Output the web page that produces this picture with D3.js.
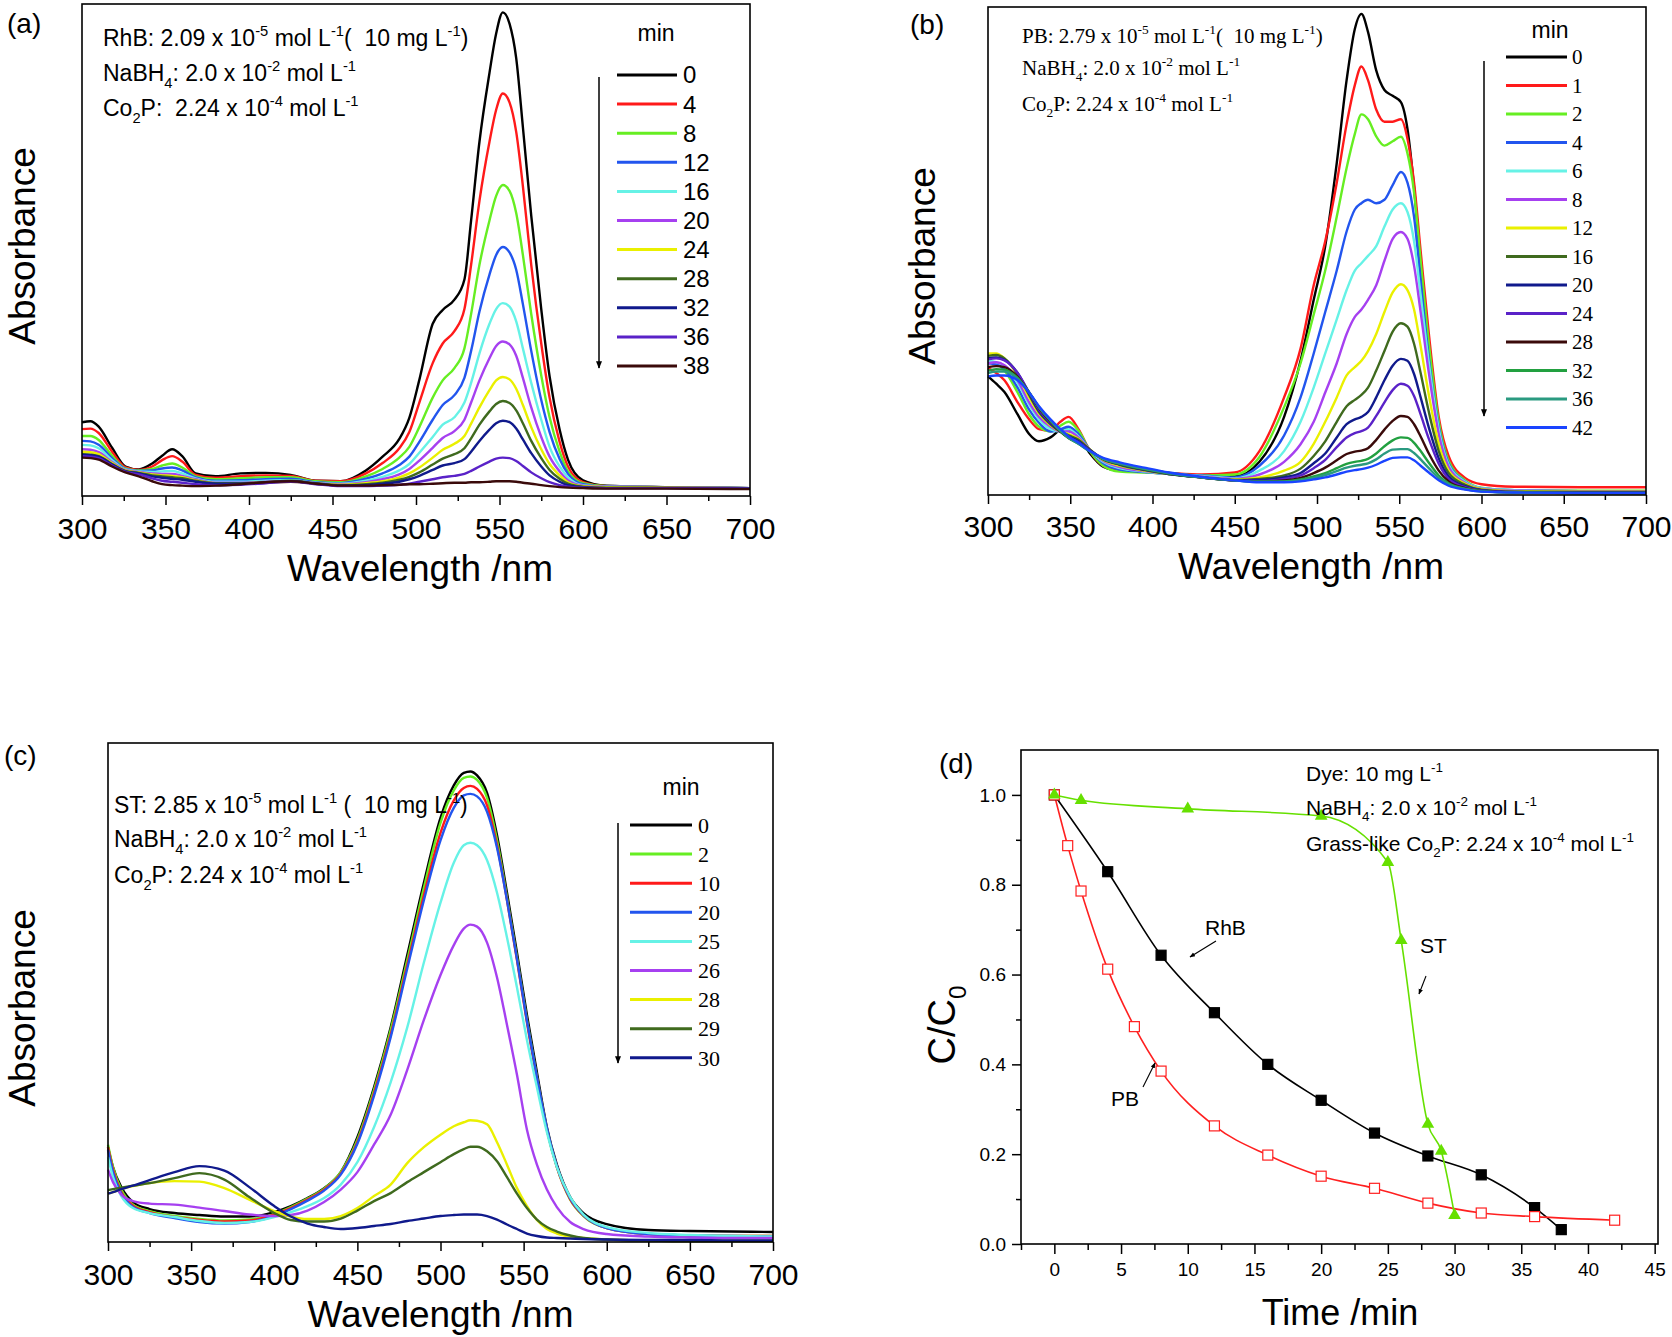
<!DOCTYPE html>
<html lang="en">
<head>
<meta charset="UTF-8">
<title>Dye reduction over Co2P</title>
<script src="https://cdn.jsdelivr.net/npm/d3@7"></script>
<style>
  body { margin: 0; background: #fff; }
  svg { display: block; background: #fff; }
  text { white-space: pre; fill: #000; }
  .sans { font-family: "Liberation Sans", Arial, sans-serif; }
  .narrow { font-family: "Liberation Sans Narrow", "Liberation Sans", Arial, sans-serif; }
  .serif { font-family: "Liberation Serif", "Times New Roman", serif; }
</style>
</head>
<body>
<script>
// ---------- data ----------
const specTicks = [300, 350, 400, 450, 500, 550, 600, 650, 700];

// (a) RhB
const wlA = [300,305,310,318,326,334,342,348,354,360,368,380,395,410,425,440,455,470,480,490,496,502,510,516,523,529,533,538,544,548,552,556,560,564,569,575,580,586,591,600,614,650,700];
const timesA = ["0","4","8","12","16","20","24","28","32","36","38"];
const absA = [
  [.150,.152,.141,.098,.060,.054,.066,.082,.095,.081,.046,.040,.046,.047,.043,.031,.030,.052,.080,.116,.159,.236,.350,.378,.399,.44,.56,.72,.86,.94,.983,.96,.89,.75,.57,.38,.243,.135,.074,.032,.021,.018,.016],
  [.136,.137,.128,.090,.058,.053,.060,.073,.081,.070,.043,.037,.040,.042,.041,.031,.030,.046,.067,.097,.130,.19,.27,.31,.335,.38,.47,.60,.72,.785,.818,.80,.74,.63,.47,.31,.20,.11,.06,.028,.020,.018,.016],
  [.122,.122,.114,.082,.056,.052,.055,.062,.066,.058,.040,.034,.036,.038,.038,.030,.028,.040,.055,.078,.100,.14,.20,.235,.26,.30,.37,.47,.56,.61,.632,.62,.575,.49,.37,.245,.16,.09,.05,.026,.020,.018,.016],
  [.112,.111,.104,.077,.055,.051,.052,.056,.058,.052,.038,.031,.032,.034,.035,.028,.026,.035,.046,.063,.08,.11,.155,.185,.205,.24,.295,.375,.45,.49,.506,.495,.46,.39,.295,.195,.13,.075,.045,.024,.019,.018,.016],
  [.104,.103,.097,.073,.054,.050,.049,.050,.051,.046,.036,.029,.029,.031,.032,.027,.025,.031,.039,.052,.065,.088,.12,.145,.16,.19,.23,.29,.35,.38,.392,.385,.355,.30,.23,.155,.10,.06,.038,.022,.019,.018,.016],
  [.095,.094,.089,.069,.053,.049,.046,.045,.045,.041,.034,.027,.027,.029,.030,.026,.024,.028,.034,.044,.055,.072,.098,.118,.132,.155,.19,.235,.28,.305,.314,.308,.285,.24,.18,.12,.08,.05,.032,.021,.019,.018,.016],
  [.090,.089,.085,.067,.052,.048,.044,.042,.041,.038,.032,.026,.026,.027,.029,.025,.023,.026,.030,.038,.046,.058,.078,.094,.106,.122,.147,.18,.215,.235,.242,.237,.218,.185,.14,.095,.065,.042,.028,.020,.018,.017,.016],
  [.085,.084,.081,.065,.051,.047,.042,.040,.038,.036,.031,.026,.026,.028,.031,.026,.022,.024,.027,.033,.039,.048,.064,.076,.085,.097,.117,.145,.172,.187,.193,.189,.174,.148,.112,.077,.053,.035,.025,.019,.017,.017,.016],
  [.084,.083,.080,.064,.050,.046,.040,.037,.035,.033,.029,.025,.025,.027,.030,.025,.021,.022,.025,.029,.034,.041,.053,.062,.067,.075,.09,.112,.135,.148,.153,.15,.137,.115,.087,.06,.042,.029,.022,.018,.016,.016,.015],
  [.081,.080,.077,.062,.049,.044,.036,.031,.029,.027,.024,.022,.023,.026,.029,.024,.020,.020,.021,.023,.025,.029,.034,.038,.041,.045,.051,.060,.070,.076,.078,.077,.071,.061,.048,.036,.028,.022,.019,.017,.016,.016,.015],
  [.078,.077,.074,.060,.048,.040,.030,.024,.022,.021,.020,.021,.024,.028,.030,.025,.021,.021,.022,.023,.024,.024,.025,.026,.027,.027,.028,.028,.029,.030,.030,.030,.029,.027,.025,.022,.020,.018,.017,.016,.015,.015,.014]
];

// (b) PB
const wlB = [300,305,310,318,325,331,338,344,349,355,362,370,380,395,410,430,450,465,480,490,498,505,512,518,523,527,531,536,541,546,551,555,559,563,568,574,580,590,600,620,660,700];
const timesB = ["0","1","2","4","6","8","12","16","20","24","28","32","36","42"];
const absB = [
  [.243,.228,.211,.165,.125,.110,.118,.133,.135,.12,.085,.058,.050,.052,.045,.039,.038,.068,.16,.275,.40,.51,.68,.85,.955,.986,.949,.87,.83,.818,.805,.75,.63,.476,.297,.132,.061,.025,.012,.006,.005,.004],
  [.26,.25,.235,.19,.155,.135,.132,.15,.16,.135,.09,.06,.05,.048,.045,.042,.046,.09,.20,.30,.43,.52,.64,.76,.84,.878,.85,.79,.765,.765,.77,.73,.64,.50,.33,.16,.08,.035,.022,.017,.016,.016],
  [.276,.27,.255,.21,.165,.14,.13,.142,.15,.132,.09,.06,.048,.046,.044,.04,.042,.078,.18,.27,.37,.46,.57,.67,.74,.78,.77,.735,.716,.725,.734,.70,.62,.48,.31,.15,.07,.03,.015,.01,.009,.009],
  [.27,.268,.258,.22,.175,.148,.13,.135,.14,.125,.092,.065,.052,.047,.043,.04,.036,.06,.122,.20,.29,.375,.46,.54,.585,.598,.605,.598,.605,.635,.662,.64,.57,.44,.28,.14,.065,.028,.014,.01,.008,.008],
  [.275,.272,.265,.23,.185,.155,.135,.13,.135,.12,.092,.068,.055,.048,.043,.039,.034,.05,.09,.15,.22,.29,.36,.42,.46,.475,.49,.51,.55,.585,.598,.58,.52,.41,.27,.135,.062,.027,.014,.01,.008,.008],
  [.27,.272,.266,.235,.19,.16,.14,.13,.13,.118,.093,.07,.057,.049,.043,.038,.033,.042,.068,.104,.15,.21,.27,.33,.365,.38,.40,.43,.48,.525,.539,.525,.47,.375,.25,.125,.058,.025,.013,.009,.008,.008],
  [.29,.29,.28,.245,.2,.167,.143,.13,.125,.115,.093,.072,.06,.05,.043,.037,.032,.036,.05,.068,.105,.15,.20,.245,.262,.275,.295,.33,.375,.415,.432,.42,.38,.305,.205,.105,.05,.023,.012,.008,.007,.007],
  [.285,.287,.28,.248,.205,.17,.145,.13,.122,.113,.093,.073,.062,.051,.043,.036,.031,.033,.04,.054,.08,.11,.15,.182,.195,.205,.22,.255,.295,.335,.352,.345,.31,.25,.17,.09,.045,.021,.011,.007,.006,.006],
  [.28,.282,.277,.25,.208,.173,.147,.13,.12,.11,.092,.074,.063,.052,.043,.036,.03,.031,.036,.045,.065,.085,.118,.145,.155,.16,.17,.2,.235,.265,.279,.275,.248,.2,.138,.075,.038,.018,.01,.006,.005,.005],
  [.278,.28,.276,.25,.21,.175,.148,.13,.118,.108,.091,.074,.064,.053,.044,.036,.03,.029,.033,.04,.055,.072,.098,.118,.127,.131,.138,.162,.19,.215,.228,.224,.203,.165,.115,.064,.033,.016,.009,.006,.005,.005],
  [.262,.264,.262,.242,.21,.178,.15,.13,.117,.106,.09,.074,.064,.053,.044,.036,.03,.028,.03,.035,.045,.056,.071,.084,.089,.091,.096,.113,.134,.152,.162,.16,.145,.12,.085,.05,.028,.014,.008,.005,.005,.005],
  [.255,.258,.257,.24,.21,.18,.152,.131,.117,.105,.089,.074,.064,.053,.044,.036,.03,.027,.028,.032,.038,.045,.055,.064,.068,.07,.074,.085,.1,.112,.118,.117,.107,.09,.066,.04,.024,.013,.008,.005,.004,.004],
  [.25,.253,.253,.238,.21,.18,.153,.132,.117,.105,.089,.074,.065,.054,.045,.036,.03,.027,.027,.03,.035,.041,.049,.056,.06,.062,.065,.073,.085,.093,.094,.094,.086,.073,.055,.035,.022,.012,.007,.005,.004,.004],
  [.243,.245,.245,.235,.21,.182,.155,.135,.12,.107,.09,.076,.067,.056,.046,.037,.03,.026,.026,.028,.032,.036,.042,.048,.051,.053,.056,.062,.07,.076,.077,.077,.071,.06,.046,.03,.019,.011,.007,.005,.004,.004]
];

// (c) ST
const wlC = [300,303,308,315,325,340,355,370,385,400,410,420,430,440,450,460,470,480,490,500,508,514,518,522,528,534,540,546,552,558,564,570,578,586,600,625,650,675,700];
const timesC = ["0","2","10","20","25","26","28","29","30"];
const absC = [
  [.19,.15,.11,.08,.066,.058,.054,.051,.051,.06,.072,.088,.108,.14,.21,.31,.43,.575,.72,.85,.915,.94,.943,.935,.90,.815,.70,.58,.455,.34,.23,.155,.09,.058,.036,.024,.022,.021,.02],
  [.195,.15,.105,.075,.062,.052,.046,.043,.045,.056,.07,.087,.107,.14,.205,.305,.425,.565,.71,.84,.905,.93,.933,.926,.89,.805,.69,.57,.445,.33,.225,.15,.085,.052,.028,.016,.013,.012,.012],
  [.19,.145,.1,.073,.06,.05,.044,.041,.043,.055,.068,.085,.105,.137,.2,.298,.415,.555,.695,.82,.885,.91,.914,.908,.875,.795,.685,.565,.44,.328,.225,.15,.086,.053,.028,.016,.013,.012,.012],
  [.185,.14,.097,.07,.058,.048,.04,.037,.04,.052,.066,.083,.103,.135,.197,.293,.41,.548,.685,.805,.87,.895,.898,.893,.862,.79,.685,.567,.443,.33,.228,.152,.088,.054,.028,.016,.013,.012,.011],
  [.17,.13,.092,.068,.058,.05,.042,.038,.04,.05,.06,.072,.088,.115,.16,.23,.32,.43,.56,.68,.76,.795,.80,.795,.765,.70,.61,.51,.405,.31,.22,.15,.09,.055,.03,.018,.014,.012,.011],
  [.145,.12,.095,.082,.077,.075,.069,.062,.055,.052,.054,.063,.08,.105,.14,.195,.255,.345,.445,.535,.595,.628,.636,.632,.60,.53,.435,.335,.225,.155,.105,.07,.04,.026,.016,.011,.009,.008,.008],
  [.097,.10,.106,.112,.118,.122,.121,.108,.085,.062,.051,.046,.046,.052,.068,.092,.115,.158,.19,.215,.232,.24,.244,.243,.236,.2,.155,.108,.072,.044,.026,.017,.011,.008,.005,.003,.002,.002,.002],
  [.104,.106,.109,.113,.118,.128,.138,.125,.09,.058,.044,.041,.041,.047,.063,.082,.098,.12,.14,.16,.176,.186,.191,.191,.182,.162,.13,.097,.068,.045,.03,.021,.013,.008,.005,.003,.002,.002,.002],
  [.097,.10,.106,.113,.124,.14,.152,.143,.11,.072,.051,.037,.03,.026,.028,.032,.036,.042,.047,.052,.054,.055,.055,.055,.052,.045,.035,.026,.017,.012,.009,.008,.007,.006,.005,.004,.004,.003,.003]
];

// (d) C/C0 versus time
const tRhB = [0, 4, 8, 12, 16, 20, 24, 28, 32, 36, 38];
const cRhB = [1.0, 0.829, 0.643, 0.515, 0.40, 0.32, 0.247, 0.196, 0.154, 0.081, 0.032];
const tPB = [0, 1, 2, 4, 6, 8, 12, 16, 20, 24, 28, 32, 36, 42];
const cPB = [1.0, 0.887, 0.786, 0.612, 0.484, 0.385, 0.263, 0.198, 0.151, 0.124, 0.091, 0.069, 0.061, 0.053];
const tST = [0, 2, 10, 20, 25, 26, 28, 29, 30];
const cST = [1.0, 0.988, 0.969, 0.953, 0.85, 0.676, 0.267, 0.207, 0.064];
const timeTicks = [0, 5, 10, 15, 20, 25, 30, 35, 40, 45];
const ratioTicks = [0.0, 0.2, 0.4, 0.6, 0.8, 1.0];

// ---------- styles ----------
const colA = ["#000000","#ff1a1a","#66ee22","#2255ee","#66f2e6","#a640f0","#eaf000","#3f6a1e","#101a8c","#5a22c8","#3a0a0a"];
const colB = ["#000000","#ff1a1a","#66ee22","#2255ee","#66f2e6","#a640f0","#eaf000","#3f6a1e","#101a8c","#5a22c8","#3a0a0a","#22a040","#2a9a80","#1a44ff"];
const colC = ["#000000","#66ee22","#ff1a1a","#2255ee","#66f2e6","#a640f0","#eaf000","#3f6a1e","#101a8c"];

const W = 1672, H = 1337;
const svg = d3.select("body").append("svg").attr("width", W).attr("height", H);

const defs = svg.append("defs");
defs.append("marker").attr("id", "ah")
    .attr("viewBox", "0 0 10 10").attr("refX", 9).attr("refY", 5)
    .attr("markerWidth", 5).attr("markerHeight", 7).attr("orient", "auto")
  .append("path").attr("d", "M0,1 L10,5 L0,9 Z").attr("fill", "#000");

// text with ^{sup} and _{sub}
function rich(g, x, y, str, fs, cls, anchor) {
  const t = g.append("text").attr("x", x).attr("y", y).attr("class", cls)
      .attr("font-size", fs).attr("text-anchor", anchor || "start");
  const parts = str.split(/(\^\{[^}]*\}|_\{[^}]*\})/).filter(s => s.length);
  let shift = 0;
  parts.forEach(p => {
    let target = 0, txt = p, size = fs;
    if (p.startsWith("^{")) { target = -0.42 * fs; txt = p.slice(2, -1); size = 0.64 * fs; }
    else if (p.startsWith("_{")) { target = 0.3 * fs; txt = p.slice(2, -1); size = 0.64 * fs; }
    t.append("tspan").attr("dy", target - shift).attr("font-size", size).text(txt);
    shift = target;
  });
  return t;
}

function spectrumPanel(p) {
  const g = svg.append("g");
  const x = d3.scaleLinear().domain([300, 700]).range([p.x0, p.x1]);
  const y = d3.scaleLinear().domain([0, 1]).range([p.y1, p.y0]);

  const line = d3.line()
      .x((d, i) => x(p.wl[i]))
      .y(d => y(d))
      .curve(d3.curveMonotoneX);

  g.selectAll("path.spec").data(p.abs).join("path")
      .attr("class", "spec")
      .attr("d", line)
      .attr("fill", "none")
      .attr("stroke", (d, i) => p.colors[i])
      .attr("stroke-width", 2.4)
      .attr("stroke-linejoin", "round");

  g.append("rect").attr("x", p.x0).attr("y", p.y0)
      .attr("width", p.x1 - p.x0).attr("height", p.y1 - p.y0)
      .attr("fill", "none").attr("stroke", "#000").attr("stroke-width", 1.6);

  const minor = d3.axisBottom(x).tickValues(d3.range(325, 700, 50)).tickSize(5).tickFormat("");
  const major = d3.axisBottom(x).tickValues(specTicks).tickSize(9).tickPadding(p.pad);
  [minor, major].forEach(ax => {
    const a = g.append("g").attr("transform", `translate(0,${p.y1})`).call(ax);
    a.select(".domain").remove();
    a.selectAll("line").attr("stroke", "#000").attr("stroke-width", 1.5);
    a.selectAll("text").attr("class", "narrow").attr("font-size", 30).attr("fill", "#000");
  });

  g.append("text").attr("class", "sans").attr("font-size", 37)
      .attr("x", (p.x0 + p.x1) / 2 + p.titleDx).attr("y", p.titleY)
      .attr("text-anchor", "middle").text("Wavelength /nm");
  g.append("text").attr("class", "sans").attr("font-size", 37)
      .attr("transform", `translate(${p.ylabX},${p.ylabY}) rotate(-90)`)
      .attr("text-anchor", "middle").text("Absorbance");
  g.append("text").attr("class", "sans").attr("font-size", 28)
      .attr("x", p.tagX).attr("y", p.tagY).text(p.tag);

  p.notes.forEach((s, i) => rich(g, p.noteX, p.noteY[i], s, p.noteFs, p.noteCls));

  // legend
  const L = p.leg;
  g.append("text").attr("class", "sans").attr("font-size", 23)
      .attr("x", L.minX).attr("y", L.minY).attr("text-anchor", "middle").text("min");
  const rows = g.selectAll("g.row").data(p.times).join("g").attr("class", "row")
      .attr("transform", (d, i) => `translate(0,${L.y0 + i * L.dy})`);
  rows.append("line").attr("x1", L.lx0).attr("x2", L.lx1)
      .attr("stroke", (d, i) => p.colors[i]).attr("stroke-width", 3);
  rows.append("text").attr("class", L.cls).attr("font-size", L.fs)
      .attr("x", L.tx).attr("dy", "0.35em").text(d => d);
  g.append("line").attr("x1", L.ax).attr("x2", L.ax).attr("y1", L.ay0).attr("y2", L.ay1)
      .attr("stroke", "#000").attr("stroke-width", 1.5).attr("marker-end", "url(#ah)");
}

spectrumPanel({
  x0: 82, x1: 750, y0: 4, y1: 496, pad: 13,
  wl: wlA, abs: absA, colors: colA, times: timesA,
  titleDx: 4, titleY: 581, ylabX: 35, ylabY: 246, tag: "(a)", tagX: 7, tagY: 33,
  notes: ["RhB: 2.09 x 10^{-5} mol L^{-1}(  10 mg L^{-1})", "NaBH_{4}: 2.0 x 10^{-2} mol L^{-1}", "Co_{2}P:  2.24 x 10^{-4} mol L^{-1}"],
  noteX: 103, noteY: [46, 81, 116], noteFs: 23, noteCls: "narrow",
  leg: { minX: 656, minY: 41, y0: 75, dy: 29.1, lx0: 617, lx1: 677, tx: 683, fs: 24, cls: "narrow", ax: 599, ay0: 77, ay1: 368 }
});

spectrumPanel({
  x0: 988, x1: 1646, y0: 7, y1: 495, pad: 12,
  wl: wlB, abs: absB, colors: colB, times: timesB,
  titleDx: -6, titleY: 579, ylabX: 935, ylabY: 266, tag: "(b)", tagX: 910, tagY: 34,
  notes: ["PB: 2.79 x 10^{-5} mol L^{-1}(  10 mg L^{-1})", "NaBH_{4}: 2.0 x 10^{-2} mol L^{-1}", "Co_{2}P: 2.24 x 10^{-4} mol L^{-1}"],
  noteX: 1022, noteY: [43, 75, 111], noteFs: 21, noteCls: "serif",
  leg: { minX: 1550, minY: 38, y0: 57, dy: 28.5, lx0: 1506, lx1: 1567, tx: 1572, fs: 21, cls: "serif", ax: 1484, ay0: 61, ay1: 416 }
});

spectrumPanel({
  x0: 108, x1: 773, y0: 743, y1: 1242, pad: 13,
  wl: wlC, abs: absC, colors: colC, times: timesC,
  titleDx: 0, titleY: 1327, ylabX: 35, ylabY: 1008, tag: "(c)", tagX: 4, tagY: 765,
  notes: ["ST: 2.85 x 10^{-5} mol L^{-1} (  10 mg L^{-1})", "NaBH_{4}: 2.0 x 10^{-2} mol L^{-1}", "Co_{2}P: 2.24 x 10^{-4} mol L^{-1}"],
  noteX: 114, noteY: [813, 847, 883], noteFs: 23, noteCls: "narrow",
  leg: { minX: 681, minY: 795, y0: 825, dy: 29.1, lx0: 630, lx1: 692, tx: 698, fs: 22, cls: "serif", ax: 618, ay0: 823, ay1: 1063 }
});

// ---------- (d) ----------
(function () {
  const g = svg.append("g");
  const x0 = 1021, x1 = 1658, y0 = 750, y1 = 1244;
  const x = d3.scaleLinear().domain([-2.5, 45.25]).range([x0, x1]);
  const y = d3.scaleLinear().domain([0, 1.1]).range([y1, y0]);

  const series = [
    { t: tRhB, c: cRhB, color: "#000000", mark: "fill" },
    { t: tPB, c: cPB, color: "#ff2020", mark: "open" },
    { t: tST, c: cST, color: "#66e000", mark: "tri" }
  ];
  const line = d3.line().curve(d3.curveMonotoneX);

  series.forEach(s => {
    const pts = s.t.map((t, i) => [x(t), y(s.c[i])]);
    g.append("path").attr("d", line(pts)).attr("fill", "none")
        .attr("stroke", s.color).attr("stroke-width", 1.6);
  });
  series.forEach(s => {
    const pts = s.t.map((t, i) => [x(t), y(s.c[i])]);
    if (s.mark === "tri") {
      g.selectAll(null).data(pts).join("path")
          .attr("transform", d => `translate(${d[0]},${d[1]})`)
          .attr("d", d3.symbol(d3.symbolTriangle, 70))
          .attr("fill", s.color);
    } else {
      g.selectAll(null).data(pts).join("rect")
          .attr("x", d => d[0] - 5).attr("y", d => d[1] - 5)
          .attr("width", 10).attr("height", 10)
          .attr("fill", s.mark === "fill" ? s.color : "#fff")
          .attr("stroke", s.color).attr("stroke-width", 1.2);
    }
  });

  g.append("rect").attr("x", x0).attr("y", y0).attr("width", x1 - x0).attr("height", y1 - y0)
      .attr("fill", "none").attr("stroke", "#000").attr("stroke-width", 1.6);

  const axes = [
    [d3.axisBottom(x).tickValues(d3.range(-2.5, 45, 5)).tickSize(6).tickFormat(""), `translate(0,${y1})`],
    [d3.axisBottom(x).tickValues(timeTicks).tickSize(10).tickPadding(9), `translate(0,${y1})`],
    [d3.axisLeft(y).tickValues([0.1, 0.3, 0.5, 0.7, 0.9]).tickSize(5).tickFormat(""), `translate(${x0},0)`],
    [d3.axisLeft(y).tickValues(ratioTicks).tickSize(9).tickPadding(6).tickFormat(d3.format(".1f")), `translate(${x0},0)`]
  ];
  axes.forEach(([ax, tr]) => {
    const a = g.append("g").attr("transform", tr).call(ax);
    a.select(".domain").remove();
    a.selectAll("line").attr("stroke", "#000").attr("stroke-width", 1.5);
    a.selectAll("text").attr("class", "sans").attr("font-size", 19).attr("fill", "#000");
  });

  g.append("text").attr("class", "sans").attr("font-size", 36)
      .attr("x", 1340).attr("y", 1325).attr("text-anchor", "middle").text("Time /min");
  const yl = g.append("g").attr("transform", "translate(955,1025) rotate(-90)");
  rich(yl, 0, 0, "C/C_{0}", 38, "sans", "middle");
  g.append("text").attr("class", "sans").attr("font-size", 28).attr("x", 939).attr("y", 773).text("(d)");

  ["Dye: 10 mg L^{-1}", "NaBH_{4}: 2.0 x 10^{-2} mol L^{-1}", "Grass-like Co_{2}P: 2.24 x 10^{-4} mol L^{-1}"]
    .forEach((s, i) => rich(g, 1306, [781, 815, 851][i], s, 21, "sans"));

  const tags = [
    { txt: "RhB", x: 1205, y: 935, a: [1216, 941, 1190, 957] },
    { txt: "ST", x: 1420, y: 953, a: [1426, 976, 1419, 994] },
    { txt: "PB", x: 1111, y: 1106, a: [1143, 1087, 1155, 1063] }
  ];
  tags.forEach(t => {
    g.append("text").attr("class", "sans").attr("font-size", 21).attr("x", t.x).attr("y", t.y).text(t.txt);
    g.append("line").attr("x1", t.a[0]).attr("y1", t.a[1]).attr("x2", t.a[2]).attr("y2", t.a[3])
        .attr("stroke", "#000").attr("stroke-width", 1.1).attr("marker-end", "url(#ah)");
  });
})();
</script>
</body>
</html>
